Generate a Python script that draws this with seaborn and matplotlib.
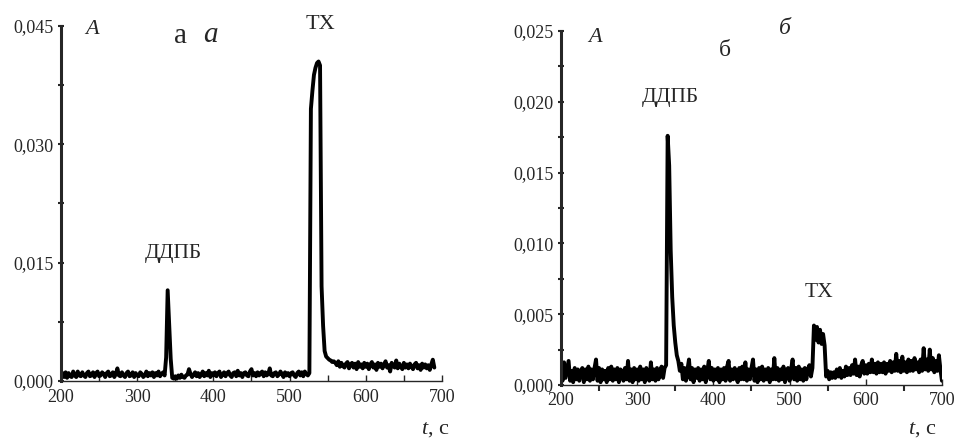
import numpy as np
import pandas as pd
import matplotlib
matplotlib.use("Agg")
import matplotlib.pyplot as plt
from matplotlib.ticker import MultipleLocator
import seaborn as sns

t_a = np.arange(200, 692, 2)
A_a = [
    4, 10, 5, 11, 4, 10, 6, 5, 12, 7,
    5, 12, 7, 6, 11, 7, 5, 10, 12, 6,
    7, 11, 5, 10, 12, 6, 7, 11, 9, 5,
    10, 12, 6, 7, 11, 5, 9, 16, 7, 6,
    11, 7, 5, 10, 12, 6, 7, 11, 5, 10,
    7, 6, 11, 9, 5, 7, 12, 6, 10, 7,
    11, 5, 10, 7, 12, 6, 9, 11, 7, 30,
    115, 70, 28, 4, 3, 6, 3, 7, 4, 8,
    5, 4, 7, 8, 15, 9, 5, 8, 11, 6,
    10, 5, 8, 12, 6, 10, 7, 13, 5, 10,
    7, 11, 6, 10, 12, 5, 8, 11, 6, 10,
    12, 7, 5, 10, 11, 6, 13, 7, 10, 5,
    10, 11, 7, 6, 12, 15, 7, 10, 6, 11,
    7, 10, 12, 6, 11, 7, 9, 16, 7, 6,
    10, 11, 6, 8, 12, 9, 5, 11, 7, 10,
    6, 10, 11, 7, 5, 10, 12, 7, 11, 6,
    12, 9, 7, 10, 345, 368, 388, 397, 403, 405,
    400, 120, 70, 38, 31, 29, 27, 26, 24, 25,
    23, 20, 25, 18, 23, 19, 17, 22, 24, 16,
    21, 23, 17, 22, 15, 24, 18, 21, 16, 23,
    18, 22, 15, 21, 24, 17, 21, 14, 23, 18,
    22, 16, 21, 25, 17, 20, 12, 23, 19, 17,
    26, 16, 22, 18, 15, 23, 17, 21, 16, 22,
    18, 15, 21, 23, 16, 20, 14, 22, 17, 21,
    16, 20, 14, 21, 27, 17,
]

# (б) same, every 2 s from 200 to 700 s
t_b = np.arange(200, 702, 2)
A_b = [
    14, 3, 16, 5, 11, 17, 3, 10, 2, 12,
    4, 11, 3, 10, 12, 2, 11, 4, 13, 3,
    11, 4, 12, 18, 3, 12, 2, 11, 4, 10,
    2, 12, 4, 13, 3, 11, 4, 12, 2, 11,
    10, 3, 12, 4, 17, 3, 11, 2, 12, 4,
    11, 3, 13, 4, 11, 2, 12, 5, 3, 16,
    4, 11, 3, 12, 4, 10, 13, 5, 12, 14,
    176, 155, 95, 62, 42, 30, 21, 17, 10, 15,
    4, 12, 3, 11, 18, 4, 12, 2, 11, 5,
    12, 3, 11, 4, 13, 2, 10, 17, 4, 12,
    3, 11, 4, 12, 2, 11, 4, 12, 3, 13,
    17, 3, 11, 4, 12, 5, 2, 12, 4, 13,
    4, 16, 3, 11, 4, 12, 18, 3, 11, 2,
    12, 4, 13, 3, 11, 4, 12, 2, 11, 4,
    19, 4, 12, 3, 11, 4, 13, 2, 10, 12,
    3, 11, 18, 4, 12, 3, 13, 4, 11, 3,
    12, 4, 11, 14, 6, 12, 42, 32, 41, 30,
    39, 29, 36, 28, 6, 10, 4, 9, 5, 9,
    5, 11, 6, 12, 5, 10, 6, 13, 7, 12,
    7, 14, 8, 18, 7, 13, 6, 14, 17, 8,
    14, 8, 15, 9, 18, 9, 15, 8, 16, 9,
    15, 9, 16, 8, 15, 10, 17, 9, 16, 10,
    22, 10, 17, 9, 20, 10, 16, 9, 18, 10,
    17, 10, 19, 11, 16, 9, 18, 10, 26, 11,
    18, 10, 25, 11, 19, 9, 17, 10, 21, 11,
    3,
]

yticks_a = [0.0, 0.015, 0.030, 0.045]
ylabels_a = ["0,000", "0,015", "0,030", "0,045"]
yticks_b = [0.0, 0.005, 0.010, 0.015, 0.020, 0.025]
ylabels_b = ["0,000", "0,005", "0,010", "0,015", "0,020", "0,025"]
xticks = [200, 300, 400, 500, 600, 700]

df_a = pd.DataFrame({"t": t_a, "A": np.array(A_a) * 1e-4})
df_b = pd.DataFrame({"t": t_b, "A": np.array(A_b) * 1e-4})

sns.set_style("ticks")
plt.rcParams["font.family"] = ["Liberation Serif", "DejaVu Serif"]
plt.rcParams["mathtext.fontset"] = "custom"
plt.rcParams["mathtext.rm"] = "Liberation Serif"
plt.rcParams["mathtext.it"] = "Liberation Serif:italic"

fig = plt.figure(figsize=(9.56, 4.41), dpi=100)
ax1 = fig.add_axes([0.0638, 0.1361, 0.3985, 0.805])
ax2 = fig.add_axes([0.5868, 0.127, 0.3985, 0.8027])

sns.lineplot(data=df_a, x="t", y="A", ax=ax1, color="black", lw=2.8, estimator=None)
sns.lineplot(data=df_b, x="t", y="A", ax=ax2, color="black", lw=2.8, estimator=None)

for ax, yt, yl, ymax, ystep in [(ax1, yticks_a, ylabels_a, 0.045, 0.0075),
                                (ax2, yticks_b, ylabels_b, 0.025, 0.0025)]:
    ax.set_xlim(200, 700)
    ax.set_ylim(0, ymax)
    ax.set_xticks(xticks)
    ax.set_xticklabels([str(v) for v in xticks])
    ax.set_yticks(yt)
    ax.set_yticklabels(yl)
    ax.xaxis.set_minor_locator(MultipleLocator(50))
    ax.yaxis.set_minor_locator(MultipleLocator(ystep))
    ax.set_xlabel("")
    ax.set_ylabel("")
    for s in ["top", "right"]:
        ax.spines[s].set_visible(False)
    ax.spines["left"].set_linewidth(2.2)
    ax.spines["bottom"].set_linewidth(1.0)
    ax.tick_params(axis="y", which="major", direction="inout", length=5, width=1.5,
                   labelsize=13, pad=3)
    ax.tick_params(axis="y", which="minor", direction="inout", length=4, width=1.5)
    ax.tick_params(axis="x", which="major", direction="in", length=4, width=1.0,
                   labelsize=13, pad=6)
    ax.tick_params(axis="x", which="minor", direction="in", length=4, width=1.0)
ax2.tick_params(axis="x", which="minor", direction="out", length=4, width=1.5)
ax2.tick_params(axis="x", which="major", pad=5)

# panel (a) texts
ax1.text(0.081, 0.989, "A", transform=ax1.transAxes, fontsize=16, fontstyle="italic",
         ha="center", va="center")
ax1.text(0.315, 0.972, "а", transform=ax1.transAxes, fontsize=21, ha="center", va="center")
ax1.text(0.391, 0.975, "a", transform=ax1.transAxes, fontsize=21, fontstyle="italic",
         ha="center", va="center")
ax1.text(347.5, 0.0161, "ДДПБ", fontsize=15.5, ha="center", va="center")
ax1.text(540, 0.0452, "ТХ", fontsize=16, ha="center", va="center", clip_on=False)

# panel (b) texts
ax2.text(0.089, 0.983, "A", transform=ax2.transAxes, fontsize=16, fontstyle="italic",
         ha="center", va="center")
ax2.text(0.43, 0.946, "б", transform=ax2.transAxes, fontsize=17, ha="center", va="center")
ax2.text(0.588, 1.008, "б", transform=ax2.transAxes, fontsize=17, fontstyle="italic",
         ha="center", va="center")
ax2.text(343, 0.0203, "ДДПБ", fontsize=15.5, ha="center", va="center")
ax2.text(538.6, 0.0065, "ТХ", fontsize=15.5, ha="center", va="center")

fig.text(0.4707, 0.025, "$t$, с", fontsize=16, ha="right", va="center")
fig.text(0.980, 0.025, "$t$, с", fontsize=16, ha="right", va="center")

fig.savefig("out.png", dpi=100)
